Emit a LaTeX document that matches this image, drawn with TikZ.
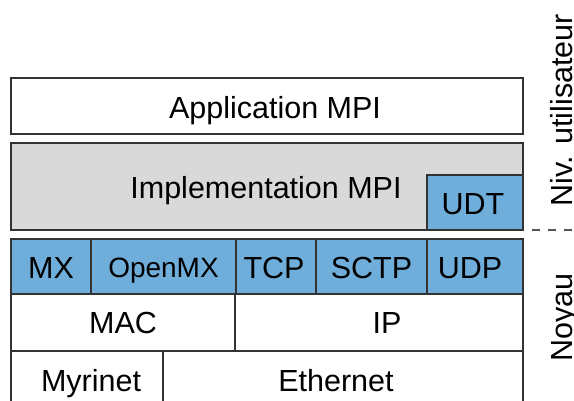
\documentclass[tikz,border=0pt]{standalone}
\usepackage{fontspec}
\setmainfont{Liberation Sans}
\definecolor{boxblue}{HTML}{6FAEDB}
\definecolor{boxgray}{HTML}{D9D9D9}
\definecolor{edgecol}{HTML}{333333}
\definecolor{dashcol}{HTML}{555555}
\begin{document}
\begin{tikzpicture}[x=1pt,y=-1pt,
  layer/.style={draw=edgecol, line width=1.8pt, inner sep=0pt, outer sep=0pt, anchor=center},
  bluebox/.style={layer, fill=boxblue},
  graybox/.style={layer, fill=boxgray},
  whitebox/.style={layer, fill=white},
  txt/.style={inner sep=0pt, font=\fontsize{30.5}{36}\selectfont, text height=21.8pt, text depth=0pt, anchor=center},
  smalltxt/.style={txt, font=\fontsize{28}{34}\selectfont, text height=20pt},
  sidelabel/.style={rotate=90, anchor=base, inner sep=0pt, font=\fontsize{30.5}{36}\selectfont},
  dashline/.style={draw=dashcol, line width=1.6pt, dash pattern=on 8pt off 8pt}
]
\useasboundingbox (0,0) rectangle (574,401);
\clip (0,0) rectangle (574,401);

% user level
\node[whitebox, minimum width=512pt, minimum height=56pt] (app) at (267,106) {};
\node[graybox, minimum width=512pt, minimum height=87pt] (impl) at (267,186.5) {};
\node[bluebox, minimum width=96pt, minimum height=55pt] (udt) at (475,202.5) {};

% kernel
\node[bluebox, minimum width=80pt, minimum height=55pt] (mx) at (51,266.5) {};
\node[bluebox, minimum width=145pt, minimum height=55pt] (openmx) at (163.5,266.5) {};
\node[bluebox, minimum width=80pt, minimum height=55pt] (tcp) at (276,266.5) {};
\node[bluebox, minimum width=111pt, minimum height=55pt] (sctp) at (371.5,266.5) {};
\node[bluebox, minimum width=96pt, minimum height=55pt] (udp) at (475,266.5) {};

\node[whitebox, minimum width=224pt, minimum height=57pt] (mac) at (123,322.5) {};
\node[whitebox, minimum width=288pt, minimum height=57pt] (ip) at (379,322.5) {};

\node[whitebox, minimum width=152pt, minimum height=59pt] (myri) at (87,380.5) {};
\node[whitebox, minimum width=360pt, minimum height=59pt] (eth) at (343,380.5) {};

% texts
\node[txt] (appt) at ([xshift=8pt,yshift=-2pt]app.center) {Application MPI};
\node[txt] (implt) at ([xshift=-1pt,yshift=-1pt]impl.center) {Implementation MPI};
\node[txt] (udtt) at ([xshift=-2pt,yshift=-1pt]udt.center) {UDT};
\node[txt] (mxt) at ([yshift=-1pt]mx.center) {MX};
\node[smalltxt] (openmxt) at ([yshift=-1pt]openmx.center) {OpenMX};
\node[txt] (tcpt) at ([xshift=-2pt,yshift=-1pt]tcp.center) {TCP};
\node[txt] (sctpt) at ([yshift=-1pt]sctp.center) {SCTP};
\node[txt] (udpt) at ([xshift=-5pt,yshift=-1pt]udp.center) {UDP};
\node[txt] (mact) at (mac.center) {MAC};
\node[txt] (ipt) at ([xshift=8pt]ip.center) {IP};
\node[txt] (myrit) at ([xshift=4pt]myri.center) {Myrinet};
\node[txt] (etht) at ([xshift=-7pt]eth.center) {Ethernet};

% side labels
\node[sidelabel] (user) at (572,110) {Niv. utilisateur};
\node[sidelabel] (kernel) at (572,317.5) {Noyau};

\coordinate (d1) at (532,230);
\coordinate (d2) at (574,230);
\draw[dashline] (d1) -- (d2);
\end{tikzpicture}
\end{document}
